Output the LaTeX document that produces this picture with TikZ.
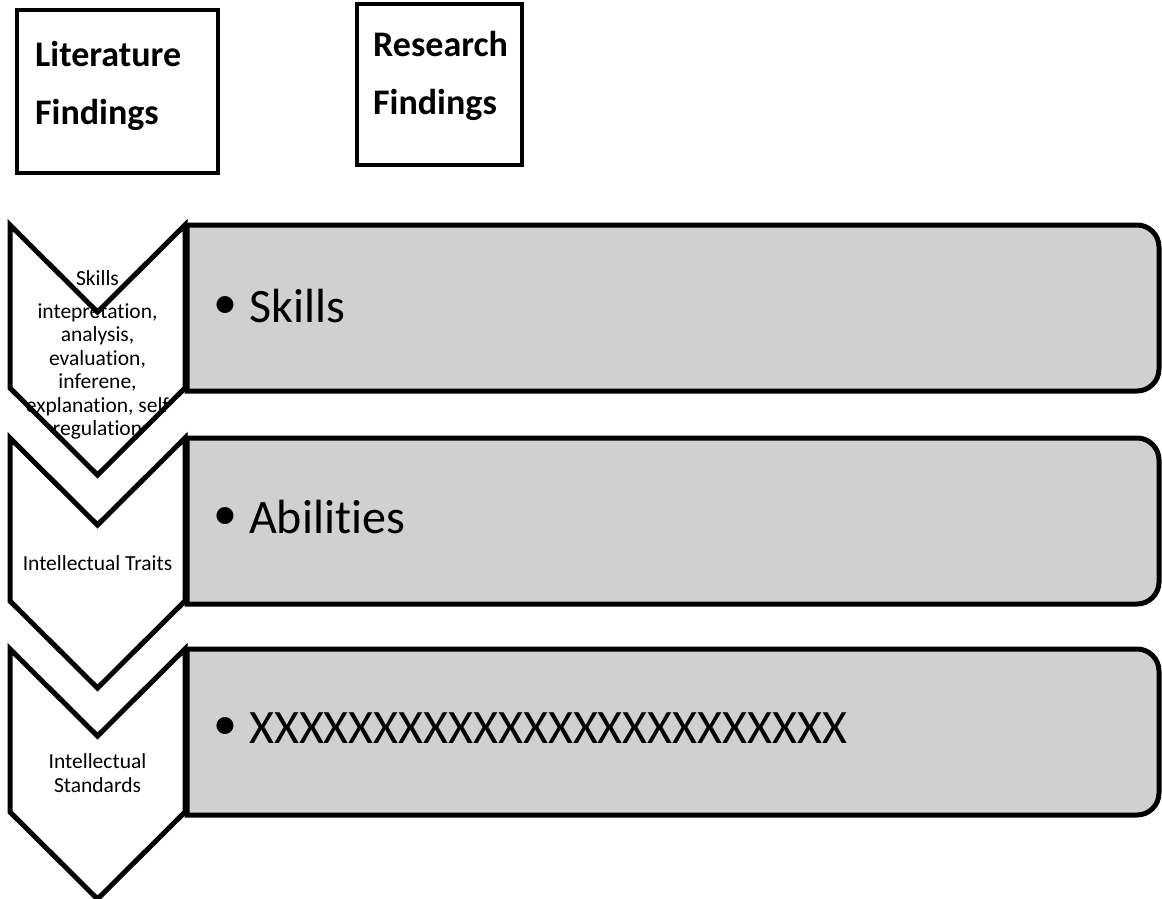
\documentclass[tikz,border=0pt]{standalone}
\usepackage{fontspec}
\setmainfont{Carlito}[Ligatures={NoCommon,NoContextual}]
\definecolor{bargray}{RGB}{208,208,208}
\begin{document}
\begin{tikzpicture}[x=1pt,y=-1pt,
  chev/.style={draw=black,fill=white,line width=5pt,line join=miter},
  bar/.style={draw=black,fill=bargray,line width=5pt},
  headbox/.style={draw=black,line width=4pt,fill=white},
  chevtext/.style={font=\fontsize{21.5}{23.5}\selectfont,align=center,inner sep=0pt,text=black},
  bartext/.style={font=\fontsize{48}{56}\selectfont,anchor=base west,inner sep=0pt,text=black},
  bullet/.style={font=\fontsize{48}{56}\selectfont,anchor=center,inner sep=0pt,text=black},
  headtext/.style={font=\bfseries\fontsize{36}{58}\selectfont,align=left,anchor=west,inner sep=0pt,text=black}]
\useasboundingbox (0,0) rectangle (1162,899);

% header boxes
\draw[headbox] (17,10) rectangle (218,173);
\node[headtext] (lit) at (35,86) {Literature\\Findings};
\draw[headbox] (357,4) rectangle (522,165);
\node[headtext] (res) at (373,76) {Research\\Findings};

% bars with rounded right corners
\foreach \T in {225,438,649}{
  \draw[bar] (187,\T) -- (1137,\T)
    .. controls (1149.1,\T) and (1159,\T+9.9) .. (1159,\T+22)
    -- (1159,\T+144)
    .. controls (1159,\T+156.1) and (1149.1,\T+166) .. (1137,\T+166)
    -- (187,\T+166) -- cycle;
}

% chevrons
\foreach \T in {225,438,649}{
  \draw[chev] (10,\T) -- (97.5,\T+87) -- (185,\T) -- (185,\T+163)
    -- (97.5,\T+250) -- (10,\T+163) -- cycle;
}

% chevron texts
\node[chevtext] (c1) at (97.5,355) {Skills\\[9.5pt]intepretation,\\analysis,\\evaluation,\\inferene,\\explanation, self\\regulation};
\node[chevtext,anchor=base] (c2) at (97.5,570) {Intellectual Traits};
\node[chevtext] (c3) at (97.5,773) {Intellectual\\Standards};

% bar texts
\node[bullet] (b1) at (225.5,308) {•};
\node[bartext] (t1) at (249,322) {Skills};
\node[bullet] (b2) at (225.5,519) {•};
\node[bartext] (t2) at (249,533) {Abilities};
\node[bullet] (b3) at (225.5,729) {•};
\node[bartext] (t3) at (249,743) {XXXXXXXXXXXXXXXXXXXXXXXX};
\end{tikzpicture}
\end{document}
